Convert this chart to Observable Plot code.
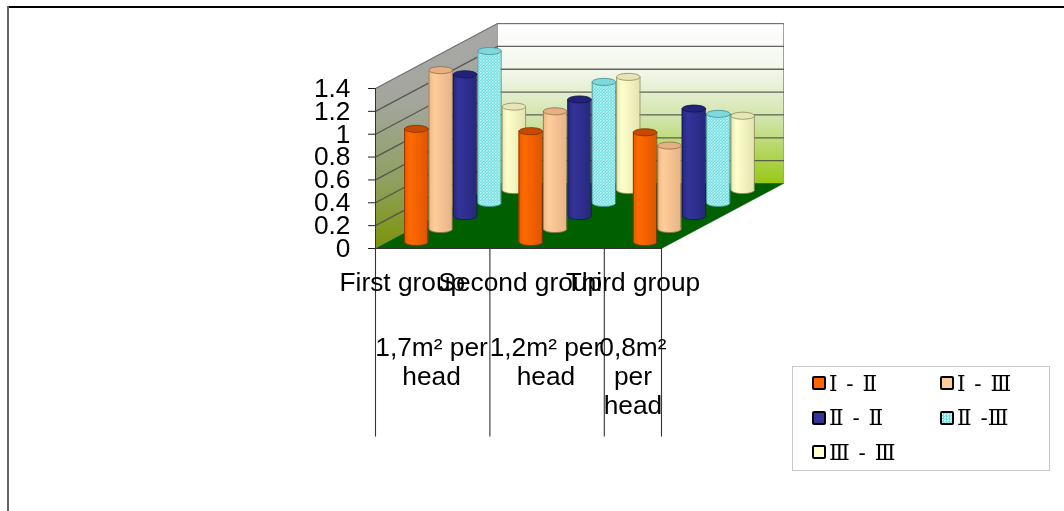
<!DOCTYPE html>
<html>
<head>
<meta charset="utf-8">
<script src="https://cdn.jsdelivr.net/npm/d3@7"></script>
<script src="https://cdn.jsdelivr.net/npm/@observablehq/plot@0.6"></script>
<style>
  html, body { margin: 0; padding: 0; background: #fff; }
  #page { position: relative; width: 1064px; height: 511px; overflow: hidden; }
  #page svg { position: absolute; left: 0; top: 0; filter: blur(0.35px); }
  #frameTop { position: absolute; left: 7px; right: 0; top: 6px; height: 1.6px; background: #000; }
  #frameLeft { position: absolute; left: 7px; width: 1.8px; top: 6px; bottom: 0; background: #666; }
  #legend { position: absolute; left: 792px; top: 366px; width: 256px; height: 103px; border: 1px solid #c8c8c8;
    background: #fff; font-family: "DejaVu Serif", "Liberation Serif", serif; font-size: 21.5px; word-spacing: 2px; color: #000; filter: blur(0.3px); }
  .item { position: absolute; display: flex; align-items: center; height: 20px; white-space: nowrap; }
  .sw { width: 10px; height: 10px; border: 2px solid #000; border-radius: 2px; margin-right: 3px; flex: none; }
</style>
</head>
<body>
<div id="page">
  <div id="frameTop"></div>
  <div id="frameLeft"></div>
  <div id="legend"></div>
</div>
<script>
const groups = ["First group", "Second group", "Third group"];
const areas = [["1,7m² per", "head"], ["1,2m² per", "head"], ["0,8m²", "per", "head"]];
const series = ["Ⅰ - Ⅱ", "Ⅰ - Ⅲ", "Ⅱ - Ⅱ", "Ⅱ -Ⅲ", "Ⅲ - Ⅲ"];
const firstGroup = [0.99, 1.39, 1.24, 1.33, 0.73];
const secondGroup = [0.97, 1.03, 1.02, 1.06, 0.99];
const thirdGroup = [0.96, 0.73, 0.94, 0.78, 0.65];
const yTicks = [0, 0.2, 0.4, 0.6, 0.8, 1, 1.2, 1.4];
const separators = [0, 1, 2, 2.5];

const seriesFill = ["url(#c0)", "url(#c1)", "url(#c2)", "url(#c3)", "url(#c4)"];
const seriesStops = [
  ["#e85a00", "#ff6a00", "#e05500"],
  ["#e8b585", "#ffcc99", "#e6b487"],
  ["#262680", "#333399", "#28287f"],
  null,
  ["#e6e6b4", "#ffffcc", "#e4e4b0"]
];
const edge = ["#7a3000", "#8a7050", "#14144a", "#3f8f92", "#8a8a60"];
const topFill = ["#c84a00", "#e8b080", "#22227a", "#7fd8da", "#e8e6b8"];

// depth projection of the 3-D frame, in data units of the x and y scales
const depthX = 0.2133, depthY = 0.1137, seriesCount = 5, floorEnd = 2.5, groupLead = 0.25, yMax = 1.4;
const project = (x, y, d) => ({x: x + d * depthX, y: y + d * depthY});

const rows = [firstGroup, secondGroup, thirdGroup].flatMap((vals, g) =>
  vals.map((v, s) => ({g, s, v, cx: g + groupLead + (s + 0.5) * depthX, base: (s + 0.5) * depthY})));
// painter's order: back row first, left to right
const ordered = rows.slice().sort((a, b) => b.s - a.s || a.g - b.g);

const halfBar = 11.7 / 114.4; // half a cylinder's width in x units

// flat ellipse symbol, radius set by the dot's r
const ellipse = {draw(ctx, size) {
  const rx = Math.sqrt(size / Math.PI), ry = rx * 0.3, k = 0.5523;
  ctx.moveTo(-rx, 0);
  ctx.bezierCurveTo(-rx, -k * ry, -k * rx, -ry, 0, -ry);
  ctx.bezierCurveTo(k * rx, -ry, rx, -k * ry, rx, 0);
  ctx.bezierCurveTo(rx, k * ry, k * rx, ry, 0, ry);
  ctx.bezierCurveTo(-k * rx, ry, -rx, k * ry, -rx, 0);
  ctx.closePath();
}};

const defs = () => {
  const d = d3.create("svg:defs");
  const wall = (id, stops) => {
    const g = d.append("linearGradient").attr("id", id).attr("x1", 0).attr("y1", 0).attr("x2", 0).attr("y2", 1);
    stops.forEach(([o, c]) => g.append("stop").attr("offset", o).attr("stop-color", c));
  };
  wall("backWall", [[0, "#ffffff"], [0.3, "#f2f6ea"], [0.6, "#d0e4a8"], [1, "#96c814"]]);
  wall("sideWall", [[0, "#a8a8a8"], [0.35, "#a3a69c"], [0.7, "#8fa060"], [1, "#7a9408"]]);
  seriesStops.forEach((st, i) => {
    if (!st) return;
    const g = d.append("linearGradient").attr("id", "c" + i);
    [0, 0.25, 1].forEach((o, j) => g.append("stop").attr("offset", o).attr("stop-color", st[j]));
  });
  const p = d.append("pattern").attr("id", "c3").attr("patternUnits", "userSpaceOnUse").attr("width", 3).attr("height", 3);
  p.append("rect").attr("width", 3).attr("height", 3).attr("fill", "#6fdde0");
  p.append("rect").attr("width", 1.5).attr("height", 1.5).attr("fill", "#c8f8f8");
  p.append("rect").attr("x", 1.5).attr("y", 1.5).attr("width", 1.5).attr("height", 1.5).attr("fill", "#a8eef0");
  return d.node();
};

const D = seriesCount;
const sideWallPts = [project(0, 0, 0), project(0, 0, D), project(0, yMax, D), project(0, yMax, 0), project(0, 0, 0)];
const backWallPts = [project(0, 0, D), project(floorEnd, 0, D), project(floorEnd, yMax, D), project(0, yMax, D), project(0, 0, D)];
const floorPts = [project(0, 0, 0), project(floorEnd, 0, 0), project(floorEnd, 0, D), project(0, 0, D), project(0, 0, 0)];
const gridTicks = yTicks.filter(t => t > 0);

const gridLines = gridTicks.map(t => Plot.line(
  [project(0, t, 0), project(0, t, D), project(floorEnd, t, D)],
  {x: "x", y: "y", stroke: "#4a4a4a", strokeWidth: 1.3, strokeOpacity: t === yMax ? 0.55 : 0.85}));

const cylinders = ordered.flatMap(r => {
  const row = [r];
  return [
    Plot.dot(row, {x: "cx", y: "base", r: 11.7, symbol: ellipse, fill: seriesFill[r.s], stroke: edge[r.s], strokeWidth: 0.8}),
    Plot.rect(row, {x1: d => d.cx - halfBar, x2: d => d.cx + halfBar, y1: "base", y2: d => d.v + d.base, fill: seriesFill[r.s]}),
    Plot.ruleX(row, {x: d => d.cx - halfBar, y1: "base", y2: d => d.v + d.base, stroke: edge[r.s], strokeWidth: 0.8}),
    Plot.ruleX(row, {x: d => d.cx + halfBar, y1: "base", y2: d => d.v + d.base, stroke: edge[r.s], strokeWidth: 0.8}),
    Plot.dot(row, {x: "cx", y: d => d.v + d.base, r: 11.7, symbol: ellipse, fill: topFill[r.s], stroke: edge[r.s], strokeWidth: 0.8})
  ];
});

const font = "'Liberation Sans', Arial, sans-serif";
const labelSize = 26.3;
const groupLabelX = [0.235, 1.265, 2.25];
const rowOne = -0.3, rowStep = -0.255, rowTwo = -0.865;
const areaX = [0.49, 1.49, 2.25];
const areaLabels = areas.flatMap((lines, g) => lines.map((t, i) => ({t, x: areaX[g], y: rowTwo + i * rowStep})));

const chart = Plot.plot({
  width: 1064, height: 511,
  marginLeft: 375, marginRight: 403, marginTop: 88, marginBottom: 263,
  x: {domain: [0, floorEnd], axis: null},
  y: {domain: [0, yMax], axis: null},
  style: {background: "transparent", overflow: "visible"},
  marks: [
    defs,
    Plot.line(sideWallPts, {x: "x", y: "y", fill: "url(#sideWall)", stroke: "#a0a0a0", strokeWidth: 1}),
    Plot.line(backWallPts, {x: "x", y: "y", fill: "url(#backWall)", stroke: "#a0a0a0", strokeWidth: 1}),
    ...gridLines,
    Plot.line(floorPts, {x: "x", y: "y", fill: "#006000", stroke: "#005800", strokeWidth: 0.5}),
    ...cylinders,
    Plot.axisY(yTicks, {anchor: "left", tickSize: 7, tickPadding: 18, fontSize: labelSize, fontFamily: font, stroke: "#222", tickFormat: d => String(d), label: null, fill: "#000"}),
    Plot.ruleX([0], {y1: 0, y2: yMax, stroke: "#333", strokeWidth: 1}),
    Plot.ruleY([0], {x1: 0, x2: floorEnd, stroke: "#333", strokeWidth: 1}),
    Plot.ruleX(separators, {y1: 0, y2: -1.65, stroke: "#333", strokeWidth: 1.1}),
    Plot.text(groups, {x: (d, i) => groupLabelX[i], y: rowOne, text: d => d, fontSize: labelSize, fontFamily: font, fill: "#000", textAnchor: "middle"}),
    Plot.text(areaLabels, {x: "x", y: "y", text: "t", fontSize: labelSize, fontFamily: font, fill: "#000", textAnchor: "middle"})
  ]
});
document.getElementById("page").insertBefore(chart, document.getElementById("frameTop"));

const swatchCss = ["#ff6600", "#ffcc99", "#333399", null, "#ffffcc"];
const legend = d3.select("#legend");
const col = [19, 147], rowsY = [16, 50.5, 85];
series.forEach((name, i) => {
  const item = legend.append("div").attr("class", "item")
    .style("left", col[i % 2] + "px").style("top", (rowsY[Math.floor(i / 2)] - 10) + "px");
  const sw = item.append("div").attr("class", "sw");
  if (swatchCss[i]) sw.style("background", swatchCss[i]);
  else sw.style("background", "repeating-conic-gradient(#6fdde0 0 25%, #c8f8f8 0 50%) 0 0 / 3px 3px");
  item.append("span").text(name);
});
</script>
</body>
</html>
